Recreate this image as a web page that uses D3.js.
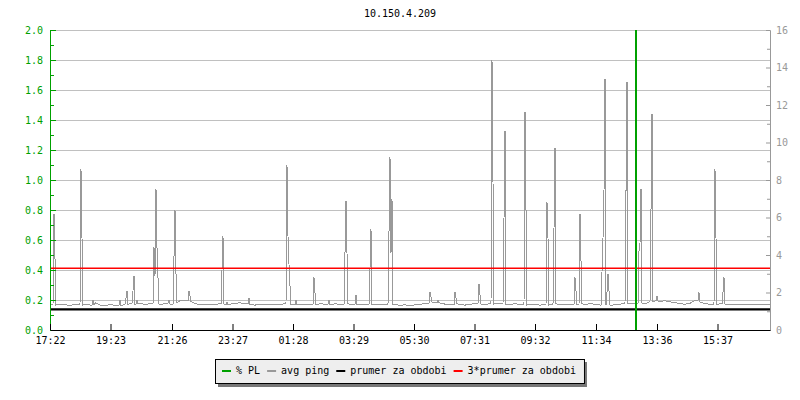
<!DOCTYPE html>
<meta charset="utf-8">
<style>
body { margin: 0; background: #fff; }
text { font: 10px "DejaVu Sans Mono", monospace; }
</style>
<svg width="800" height="400"></svg>
<script src="https://d3js.org/d3.v7.min.js"></script>
<script>
var title = "10.150.4.209";
var startTime = "17:22";   // first sample, chart spans 24 h
var xTickLabels = ["17:22","19:23","21:26","23:27","01:28","03:29","05:30","07:31","09:32","11:34","13:36","15:37"];

// avg ping (ms, right axis) - background level, one value per 10 min from 17:22
var avgPingBase = [
  1.36,1.33,1.38,1.35,1.31,1.36,1.34,1.38,1.33,1.45,
  1.33,1.30,1.35,1.32,1.30,1.36,1.40,1.38,1.42,1.36,
  1.40,1.38,1.34,1.42,1.38,1.45,1.56,1.55,1.52,1.40,
  1.36,1.38,1.34,1.36,1.40,1.35,1.38,1.42,1.45,1.40,
  1.36,1.33,1.36,1.35,1.38,1.34,1.36,1.40,1.36,1.33,
  1.35,1.38,1.34,1.36,1.40,1.38,1.35,1.40,1.36,1.42,
  1.37,1.36,1.33,1.38,1.34,1.36,1.35,1.38,1.34,1.36,
  1.32,1.34,1.31,1.34,1.36,1.42,1.48,1.45,1.44,1.38,
  1.34,1.40,1.36,1.33,1.36,1.42,1.38,1.36,1.40,1.44,
  1.40,1.38,1.36,1.40,1.37,1.34,1.38,1.36,1.33,1.35,
  1.38,1.40,1.36,1.34,1.38,1.36,1.40,1.36,1.40,1.38,
  1.33,1.34,1.32,1.34,1.38,1.42,1.40,1.40,1.44,1.40,
  1.52,1.55,1.52,1.56,1.50,1.46,1.40,1.38,1.42,1.58,
  1.50,1.40,1.38,1.36,1.40,1.38,1.36,1.35,1.38,1.36,
  1.38,1.35,1.37,1.38
];
// avg ping spikes (2 min samples)
var avgPingSpikes = [
  ["17:30",6.2],["17:32",3.8],["18:24",8.6],["18:26",4.9],["18:48",1.6],
  ["19:42",1.6],["19:54",1.7],["19:56",2.1],["20:08",2.1],["20:10",2.9],["20:16",1.6],
  ["20:50",4.4],["20:52",2.9],["20:54",7.5],["20:56",4.4],["20:58",2.8],["21:20",1.6],
  ["21:30",3.9],["21:32",6.4],["21:34",3.0],["22:00",2.1],["22:02",1.8],
  ["23:06",3.2],["23:08",5.0],["23:16",1.5],["00:00",1.7],
  ["01:16",8.8],["01:18",5.0],["01:20",3.5],["01:22",2.35],["01:34",1.6],
  ["02:10",2.8],["02:12",2.0],["02:40",1.6],["03:12",4.1],["03:14",6.9],["03:16",4.1],
  ["03:34",1.85],["04:02",3.3],["04:04",5.4],["04:40",5.2],["04:42",9.2],["04:44",4.1],["04:46",7.0],
  ["06:02",2.0],["06:04",1.75],["06:18",1.6],["06:52",2.0],["06:54",1.7],["07:40",2.45],["07:42",1.85],
  ["08:06",14.4],["08:08",7.9],["08:30",5.9],["08:32",10.6],["09:12",11.6],["09:14",6.4],
  ["09:56",6.8],["09:58",4.9],["10:10",5.4],["10:12",9.7],["10:52",2.8],["10:54",2.1],
  ["11:02",6.2],["11:04",3.7],["11:46",3.1],["11:48",4.9],["11:50",7.4],["11:52",13.4],
  ["11:56",2.0],["11:58",3.0],["12:00",2.1],["12:34",7.4],["12:36",13.2],
  ["13:00",4.2],["13:02",4.6],["13:04",7.5],["13:24",6.4],["13:26",11.5],["13:36",1.8],
  ["15:00",2.0],["15:32",8.6],["15:34",4.9],["15:48",2.0],["15:50",2.8]
];
// % PL (left axis), non-zero samples only
var plTimes = ["12:52","12:54"];
var plValues = [1.0, 100];
var periodAvg = 1.1;   // prumer za obdobi (ms)

var legendLabels = ["% PL","avg ping","prumer za obdobi","3*prumer za obdobi"];
var legendColors = ["#00a000","#999999","#000000","#ff0000"];

var svg = d3.select("svg"),
    margin = {top: 30, right: 30, bottom: 70, left: 50},
    width = 800 - margin.left - margin.right,
    height = 400 - margin.top - margin.bottom;

var t0 = new Date(2024, 0, 1, 17, 22);
function offMin(s) {
  var p = s.split(":");
  var m = +p[0] * 60 + +p[1];
  return (m - (17 * 60 + 22) + 1440) % 1440;
}
function toDate(off) { return new Date(t0.getTime() + off * 60000); }

var x = d3.scaleTime().domain([t0, toDate(1440)]).range([margin.left, margin.left + width]);
var yL = d3.scaleLinear().domain([0, 2]).range([margin.top + height, margin.top]);
var yR = d3.scaleLinear().domain([0, 16]).range([margin.top + height, margin.top]);

svg.append("defs").append("clipPath").attr("id", "clip")
  .append("rect").attr("x", margin.left).attr("y", margin.top).attr("width", width).attr("height", height);

// title
svg.append("text").attr("x", 400).attr("y", 17).attr("text-anchor", "middle").text(title);

// grid
svg.append("g").selectAll("line").data(d3.range(1, 11).map(function(i) { return i * 0.2; }))
  .enter().append("line")
  .attr("x1", margin.left).attr("x2", margin.left + width)
  .attr("y1", function(d) { return Math.round(yL(d)) + 0.5; })
  .attr("y2", function(d) { return Math.round(yL(d)) + 0.5; })
  .attr("stroke", "#c0c0c0");

// avg ping series
var spikeSet = new Set(avgPingSpikes.map(function(s) { return offMin(s[0]); }));
function baseAt(off) { return avgPingBase[Math.min(avgPingBase.length - 1, Math.floor(off / 10))]; }
var pts = [];
avgPingBase.forEach(function(v, i) { if (!spikeSet.has(i * 10)) pts.push({t: i * 10, v: v}); });
pts.push({t: 1440, v: avgPingBase[avgPingBase.length - 1]});
avgPingSpikes.forEach(function(s) {
  var o = offMin(s[0]);
  pts.push({t: o, v: s[1]});
  [o - 2, o + 2].forEach(function(a) {
    if (!spikeSet.has(a)) pts.push({t: a, v: baseAt(a)});
  });
});
pts.sort(function(a, b) { return a.t - b.t; });

var plot = svg.append("g").attr("clip-path", "url(#clip)");
plot.append("path").datum(pts)
  .attr("fill", "none").attr("stroke", "#999999").attr("stroke-width", 1)
  .attr("shape-rendering", "crispEdges")
  .attr("d", d3.line().x(function(d) { return x(toDate(d.t)); }).y(function(d) { return yR(d.v); }));

// period average and 3x
plot.append("line").attr("x1", margin.left).attr("x2", margin.left + width)
  .attr("y1", yR(periodAvg)).attr("y2", yR(periodAvg))
  .attr("stroke", "#000").attr("stroke-width", 2.2);
plot.append("line").attr("x1", margin.left).attr("x2", margin.left + width)
  .attr("y1", yR(3 * periodAvg)).attr("y2", yR(3 * periodAvg))
  .attr("stroke", "#ff0000").attr("stroke-width", 1.5);

// % PL: rises at the first sample, drops back after the last one
var plPts = [{t: 0, v: 0}];
plTimes.forEach(function(s, i) {
  var o = offMin(s);
  if (i == 0) plPts.push({t: o, v: 0});
  plPts.push({t: o, v: plValues[i]});
});
var plEnd = offMin(plTimes[plTimes.length - 1]);
plPts.push({t: plEnd, v: 0});
plPts.push({t: 1440, v: 0});
plot.append("path").datum(plPts)
  .attr("fill", "none").attr("stroke", "#00a000").attr("stroke-width", 1)
  .attr("shape-rendering", "crispEdges")
  .attr("d", d3.line().x(function(d) { return x(toDate(d.t)); }).y(function(d) { return yL(d.v); }));

// axes
var fmt = d3.format(".1f");
svg.append("g").attr("transform", "translate(" + margin.left + ",0)").attr("color", "#00a000")
  .call(d3.axisLeft(yL).tickValues(d3.range(0, 11).map(function(i) { return i * 0.2; }))
    .tickFormat(fmt).tickSize(-6).tickSizeOuter(0).tickPadding(7))
  .selectAll("text").attr("fill", "#00a000");
svg.append("g").attr("transform", "translate(" + margin.left + ",0)").attr("color", "#00a000")
  .call(d3.axisLeft(yL).tickValues(d3.range(0, 10).map(function(i) { return i * 0.2 + 0.1; }))
    .tickFormat("").tickSize(-4).tickSizeOuter(0));

svg.append("g").attr("transform", "translate(" + (margin.left + width) + ",0)").attr("color", "#999")
  .call(d3.axisRight(yR).tickValues(d3.range(0, 17, 2)).tickSize(-4).tickSizeOuter(0).tickPadding(6));
svg.append("g").attr("transform", "translate(" + (margin.left + width) + ",0)").attr("color", "#999")
  .call(d3.axisRight(yR).tickValues(d3.range(1, 16, 2)).tickFormat("").tickSize(-3).tickSizeOuter(0));

svg.append("g").attr("transform", "translate(0," + (margin.top + height) + ")").attr("color", "#000")
  .call(d3.axisBottom(x).tickValues(xTickLabels.map(function(s) { return toDate(offMin(s)); }))
    .tickFormat(d3.timeFormat("%H:%M")).tickSize(-6).tickSizeOuter(0).tickPadding(7));

svg.selectAll(".tick text").style("font", "10px 'DejaVu Sans Mono', monospace");

// legend
var lg = svg.append("g");
var shadow = lg.append("rect"), box = lg.append("rect");
var lx = 222;
legendLabels.forEach(function(l, i) {
  lg.append("line").attr("x1", lx).attr("x2", lx + 9).attr("y1", 371).attr("y2", 371)
    .attr("stroke", legendColors[i]).attr("stroke-width", 2);
  var t = lg.append("text").attr("x", lx + 14).attr("y", 373.5).text(l);
  lx = lx + 14 + t.node().getComputedTextLength() + 7;
});
var bx = 215, bw = lx - 7 + 8 - bx;
shadow.attr("x", bx + 3).attr("y", 362).attr("width", bw).attr("height", 25).attr("fill", "#777");
box.attr("x", bx + 0.5).attr("y", 359.5).attr("width", bw).attr("height", 24)
  .attr("fill", "#eeeeee").attr("stroke", "#000");
</script>
